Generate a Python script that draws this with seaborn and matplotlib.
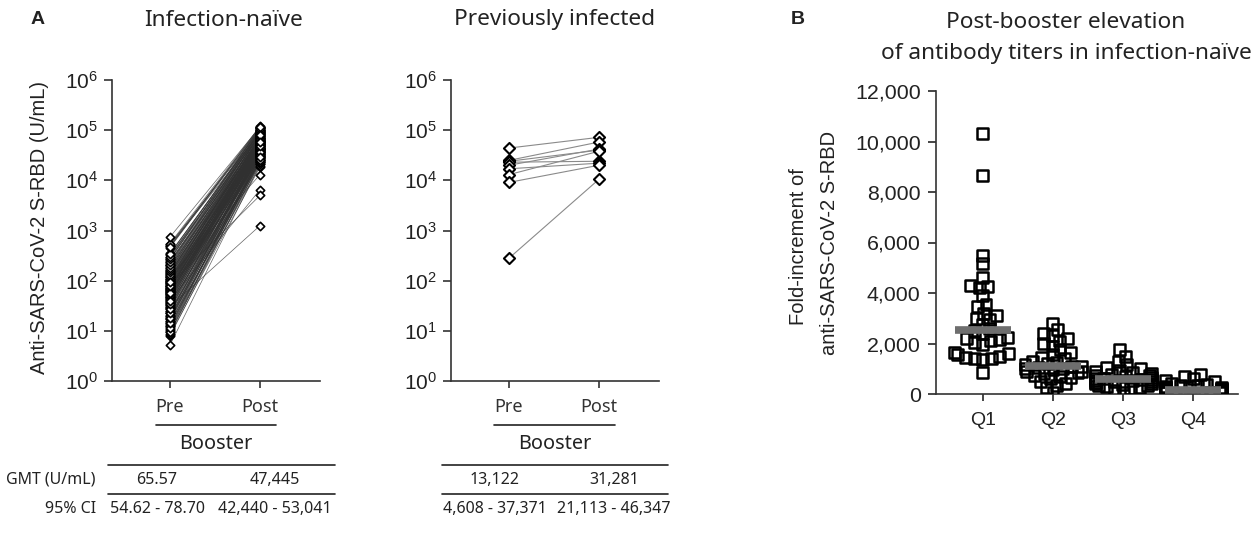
import numpy as np
import pandas as pd
import matplotlib
matplotlib.use('Agg')
import matplotlib.pyplot as plt
from matplotlib.ticker import NullLocator, FuncFormatter
from matplotlib.lines import Line2D
import seaborn as sns

# ---- data ----
timepoints = ['Pre', 'Post']

# infection-naive, paired anti-S-RBD titers (U/mL)
naive_pre = [5.2, 7.9, 8.4, 8.8, 9.3, 9.9, 10.4, 11.0, 11.8, 12.3,
             13.1, 13.9, 14.6, 15.2, 16.0, 16.9, 17.5, 18.3, 19.2, 20.1,
             21.0, 22.2, 23.1, 24.5, 25.3, 26.8, 27.9, 29.4, 30.2, 31.7,
             33.0, 34.6, 35.8, 37.2, 38.9, 40.3, 41.8, 43.5, 45.1, 46.9,
             48.2, 50.0, 51.7, 53.4, 55.0, 57.3, 59.1, 61.0, 63.2, 65.4,
             67.8, 69.5, 71.9, 74.0, 76.6, 78.8, 81.3, 84.0, 86.2, 89.5,
             92.1, 95.4, 98.0, 101, 105, 108, 112, 116, 119, 124,
             128, 133, 138, 142, 148, 153, 159, 165, 171, 178,
             185, 193, 201, 209, 218, 228, 238, 249, 261, 274,
             288, 302, 318, 335, 352, 455, 480, 500, 515, 530, 550, 740,
             36.5, 44.2, 52.6, 58.4, 66.3, 72.5, 80.1, 88.7, 96.3, 110,
             125, 141, 62.4, 47.6, 70.2, 55.8,
             9.6, 12.7, 15.8, 19.7, 23.8, 28.5, 32.4, 38.1, 42.6, 49.1,
             54.2, 60.3, 64.7, 68.9, 75.1, 83.2, 90.8, 99.5, 107, 118,
             131, 146, 162, 181, 205, 232, 265, 298, 340, 470,
             11.4, 14.1, 17.8, 22.7, 27.1, 34.9, 39.6, 57.9, 77.7, 93.4]
naive_post = [21000, 24000, 18500, 30000, 22000, 27000, 35000, 19500, 26000, 31000,
              24500, 38000, 21500, 29000, 42000, 25500, 33000, 23000, 36000, 28000,
              45000, 26500, 32000, 40000, 23500, 37000, 29500, 48000, 1250, 34000,
              27500, 52000, 39000, 31500, 44000, 6500, 36500, 58000, 30500, 41000,
              47000, 33500, 55000, 38500, 62000, 29000, 43500, 51000, 35500, 67000,
              40500, 49000, 57000, 45500, 72000, 37500, 53000, 5000, 60000, 46500,
              78000, 42500, 56000, 64000, 50500, 85000, 47500, 69000, 13000, 59000,
              75000, 54000, 88000, 63000, 70000, 95000, 57500, 81000, 66000, 100000,
              73000, 92000, 61000, 86000, 105000, 77000, 98000, 68000, 110000, 83000,
              90000, 115000, 79000, 102000, 94000, 108000, 118000, 87000, 112000, 99000, 120000, 116000,
              39500, 50000, 43000, 58500, 48500, 65000, 54500, 71000, 61500, 76000,
              68500, 82000, 44500, 34500, 52500, 41500,
              23500, 28500, 41500, 26000, 33500, 47500, 30500, 55500, 36000, 61000,
              43000, 39000, 70000, 49500, 58000, 64500, 45000, 91000, 73500, 53500,
              84000, 66500, 97000, 79500, 103000, 88500, 112000, 96000, 106000, 114000,
              32500, 25000, 44000, 37000, 52000, 29500, 60500, 48000, 80500, 57000]

# previously infected
prev_pre = [44000, 25000, 24000, 23000, 20000, 17000, 13000, 9100, 280]
prev_post = [72000, 58000, 40000, 24000, 42000, 22000, 38000, 20000, 10500]

naive_gmt = ['65.57', '47,445']
naive_ci = ['54.62 - 78.70', '42,440 - 53,041']
prev_gmt = ['13,122', '31,281']
prev_ci = ['4,608 - 37,371', '21,113 - 46,347']

# fold increment by quartile of pre-booster titer
quartiles = ['Q1', 'Q2', 'Q3', 'Q4']
fold_q1 = [10300, 8650, 5500, 5150, 4600, 4300, 4250, 4200, 3900, 3550, 3450, 3200,
           3100, 3000, 2950, 2750, 2600, 2500, 2400, 2250, 2200, 2150, 2100, 2050,
           1950, 1650, 1600, 1550, 1500, 1450, 1400, 1400, 1350, 850]
fold_q2 = [2800, 2550, 2400, 2300, 2200, 2100, 2000, 1900, 1750, 1650, 1550, 1450,
           1400, 1300, 1250, 1200, 1150, 1100, 1100, 1050, 1000, 1000, 950, 900,
           900, 850, 800, 750, 700, 650, 600, 500, 400, 350, 250, 50]
fold_q3 = [1750, 1500, 1300, 1150, 1050, 1000, 950, 900, 850, 800, 780, 750,
           720, 700, 650, 620, 600, 580, 560, 540, 520, 500, 480, 450,
           420, 400, 380, 350, 320, 300, 250, 200, 150, 50]
fold_q4 = [780, 700, 620, 550, 480, 420, 380, 350, 320, 300, 280, 260,
           240, 220, 200, 190, 180, 170, 160, 150, 140, 130, 120, 110,
           100, 90, 80, 70, 60, 50, 40, 30, 20, 10]


def paired_frame(pre, post):
    n = len(pre)
    return pd.DataFrame({
        'subject': list(range(n)) * 2,
        'x': [0] * n + [1] * n,
        'titer': list(pre) + list(post),
    })


df_naive = paired_frame(naive_pre, naive_post)
df_prev = paired_frame(prev_pre, prev_post)
df_fold = pd.DataFrame({
    'group': ['Q1'] * len(fold_q1) + ['Q2'] * len(fold_q2) + ['Q3'] * len(fold_q3) + ['Q4'] * len(fold_q4),
    'fold': fold_q1 + fold_q2 + fold_q3 + fold_q4,
})

# ---- style ----
sns.set_style('ticks')
plt.rcParams['font.family'] = ['Liberation Sans', 'DejaVu Sans']
plt.rcParams['axes.edgecolor'] = '#333333'
plt.rcParams['axes.linewidth'] = 1.2
HUM = ['Noto Sans', 'DejaVu Sans']
TXT = '#222222'

W, H = 1258, 540
fig = plt.figure(figsize=(W / 100, H / 100), dpi=100)


def fx(x):
    return x / W


def fy(y):
    return 1 - y / H


def hline(x0, x1, y, lw=1.2):
    fig.add_artist(Line2D([fx(x0), fx(x1)], [fy(y), fy(y)], transform=fig.transFigure,
                          color='#222222', lw=lw))


ax1 = fig.add_axes([fx(112), fy(381), fx(208), 301 / H])
ax2 = fig.add_axes([fx(451), fy(381), fx(208), 301 / H])
ax3 = fig.add_axes([fx(936), fy(394), fx(302), 303 / H])


def paired_panel(ax, df, msize, mlw, line_col, line_lw, line_alpha):
    ax.set_yscale('log')
    sns.lineplot(data=df, x='x', y='titer', units='subject', estimator=None,
                 color=line_col, lw=line_lw, alpha=line_alpha, ax=ax, legend=False)
    sns.scatterplot(data=df, x='x', y='titer', marker='D', s=msize, color='white',
                    edgecolor='black', linewidth=mlw, ax=ax, legend=False, zorder=3)
    ax.set_ylim(1, 1e6)
    ax.set_xlim(-0.644, 1.667)
    ax.set_yticks([10 ** k for k in range(7)])
    ax.set_yticklabels([r'$\mathregular{10^{%d}}$' % k for k in range(7)])
    ax.yaxis.set_minor_locator(NullLocator())
    ax.set_xticks([0, 1])
    ax.set_xticklabels(timepoints, family=HUM, fontsize=13, color=TXT)
    ax.tick_params(axis='y', labelsize=15, length=6, width=1.2, pad=4, colors='#333333',
                   labelcolor=TXT)
    ax.tick_params(axis='x', length=5, width=1.2, pad=7, colors='#333333')
    ax.set_xlabel('')
    ax.set_ylabel('')
    sns.despine(ax=ax)


paired_panel(ax1, df_naive, 18, 1.2, '#303030', 0.5, 0.75)
paired_panel(ax2, df_prev, 32, 1.5, '#8a8a8a', 0.8, 1.0)

# ---- panel B ----
sns.swarmplot(data=df_fold, x='group', y='fold', order=quartiles, marker='s', size=4.2,
              color='white', edgecolor='black', linewidth=1.8, ax=ax3, warn_thresh=1.0)
swarm_colls = list(ax3.collections)
sns.boxplot(data=df_fold, x='group', y='fold', order=quartiles, width=0.8,
            showbox=False, showcaps=False, showfliers=False,
            whiskerprops={'visible': False},
            medianprops={'color': '#6e6e6e', 'linewidth': 5.5,
                         'solid_capstyle': 'butt'},
            ax=ax3)
for ln in ax3.lines:
    ln.set_zorder(5)
ax3.set_ylim(0, 12000)
ax3.set_xlim(-0.67, 3.64)
ax3.set_yticks(range(0, 12001, 2000))
ax3.yaxis.set_major_formatter(FuncFormatter(lambda v, p: f'{int(v):,}'))
ax3.tick_params(axis='y', labelsize=15.4, length=6, width=1.2, pad=5, labelcolor=TXT)
ax3.tick_params(axis='x', labelsize=14, length=5, width=1.2, pad=8, labelcolor=TXT)
ax3.set_xlabel('')
ax3.set_ylabel('')
sns.despine(ax=ax3)

# ---- titles and labels ----
fig.text(fx(38), fy(20), 'A', fontsize=14, fontweight='bold', ha='center', va='center', color=TXT)
fig.text(fx(224), fy(20), 'Infection-naïve', family=HUM, fontsize=16.3, ha='center', va='center', color=TXT)
fig.text(fx(555), fy(20), 'Previously infected', family=HUM, fontsize=16.3, ha='center', va='center', color=TXT)
fig.text(fx(798), fy(20), 'B', fontsize=14, fontweight='bold', ha='center', va='center', color=TXT)
fig.text(fx(1066), fy(22), 'Post-booster elevation', family=HUM, fontsize=16.3, ha='center', va='center', color=TXT)
fig.text(fx(1066), fy(53), 'of antibody titers in infection-naïve', family=HUM, fontsize=16.3,
         ha='center', va='center', color=TXT)

fig.text(fx(40), fy(227), 'Anti-SARS-CoV-2 S-RBD (U/mL)', fontsize=14.5, rotation=90,
         ha='center', va='center', color=TXT)
fig.text(fx(798), fy(247), 'Fold-increment of', fontsize=14.5, rotation=90,
         ha='center', va='center', color=TXT)
fig.text(fx(830), fy(243), 'anti-SARS-CoV-2 S-RBD', fontsize=14.5, rotation=90,
         ha='center', va='center', color=TXT)

# ---- booster brackets and GMT tables ----
for x0, x1, tx0, tx1, gmt, ci in [(156, 276, 108, 335, naive_gmt, naive_ci),
                                  (494, 615, 442, 668, prev_gmt, prev_ci)]:
    hline(x0, x1, 425)
    fig.text(fx((x0 + x1) / 2), fy(444), 'Booster', family=HUM, fontsize=14.3,
             ha='center', va='center', color=TXT)
    hline(tx0, tx1, 465)
    hline(tx0, tx1, 494)
    for xc, g, c in zip([x0 + 1, x1 - 1], gmt, ci):
        fig.text(fx(xc), fy(480), g, family=HUM, fontsize=11.5, ha='center', va='center', color=TXT)
        fig.text(fx(xc), fy(509), c, family=HUM, fontsize=11.5, ha='center', va='center', color=TXT)

fig.text(fx(96), fy(480), 'GMT (U/mL)', family=HUM, fontsize=11.5, ha='right', va='center', color=TXT)
fig.text(fx(96), fy(509), '95% CI', family=HUM, fontsize=11.5, ha='right', va='center', color=TXT)

# seaborn lays out the swarm on the first draw; freeze that layout with the small
# marker, then enlarge the hollow squares so they overlap like the original figure
fig.canvas.draw()
for coll in swarm_colls:
    if 'draw' in coll.__dict__:
        del coll.draw
    coll.set_facecolor('none')
    coll.set_sizes([62])

fig.savefig('out.png', dpi=100)
